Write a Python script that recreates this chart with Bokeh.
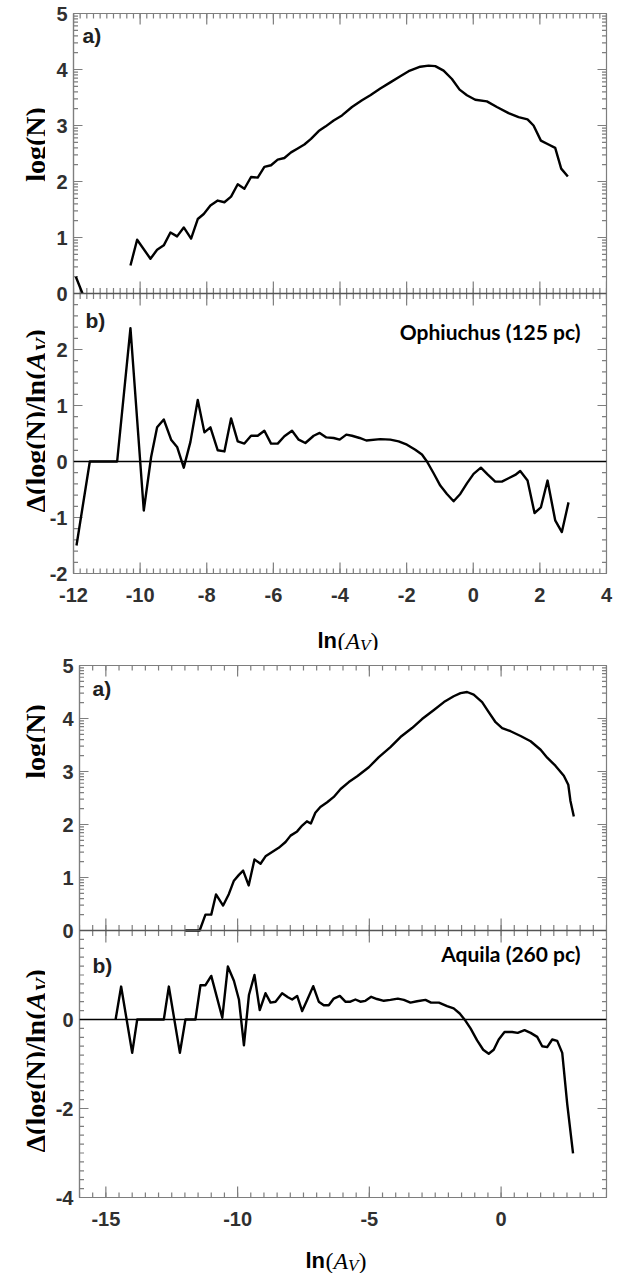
import math

from bokeh.embed import file_html
from bokeh.layouts import column, row
from bokeh.models import (CustomJSTickFormatter, FixedTicker, Label, LinearAxis,
                          Range1d, Span)
from bokeh.plotting import figure
from bokeh.resources import INLINE

NaN = float("nan")

# ---------------- Ophiuchus (125 pc) ----------------
# a) log(N) against ln(A_V); the NaN splits the isolated low-extinction piece
oph_lnav = [-11.93, -11.73, NaN,
            -10.29, -10.09, -9.69, -9.49, -9.29, -9.09, -8.89, -8.69, -8.47, -8.27,
            -8.09, -7.89, -7.67, -7.47, -7.27, -7.07, -6.87, -6.67, -6.47, -6.27,
            -6.07, -5.87, -5.67, -5.47, -5.27, -5.07, -4.87, -4.64, -4.44, -4.19,
            -3.94, -3.64, -3.34, -3.09, -2.79, -2.49, -2.19, -1.94, -1.59, -1.34,
            -1.14, -0.89, -0.64, -0.41, -0.19, 0.06, 0.41, 0.71, 1.06, 1.36,
            1.63, 1.81, 2.03, 2.26, 2.46, 2.64, 2.84]
oph_logn = [0.30, 0.0, NaN,
            0.50, 0.96, 0.62, 0.78, 0.86, 1.09, 1.02, 1.18, 0.98, 1.33,
            1.42, 1.57, 1.66, 1.63, 1.73, 1.95, 1.87, 2.08, 2.07, 2.26,
            2.29, 2.39, 2.42, 2.52, 2.59, 2.66, 2.76, 2.90, 2.98, 3.09,
            3.18, 3.33, 3.45, 3.54, 3.66, 3.77, 3.88, 3.97, 4.05, 4.07,
            4.06, 3.98, 3.83, 3.64, 3.54, 3.46, 3.43, 3.33, 3.22, 3.15,
            3.11, 3.00, 2.73, 2.66, 2.60, 2.23, 2.09]

# b) slope d log(N) / d ln(A_V)
oph_lnav_d = [-11.91, -11.51, -10.69, -10.29, -9.89, -9.67, -9.49, -9.29, -9.07, -8.89,
              -8.69, -8.49, -8.27, -8.07, -7.89, -7.67, -7.47, -7.27, -7.07, -6.87,
              -6.67, -6.47, -6.27, -6.07, -5.87, -5.67, -5.44, -5.24, -5.04, -4.79,
              -4.61, -4.41, -4.19, -4.01, -3.81, -3.64, -3.41, -3.21, -2.79, -2.49,
              -2.24, -1.99, -1.74, -1.54, -1.39, -1.19, -0.99, -0.79, -0.59, -0.39,
              -0.19, 0.01, 0.23, 0.43, 0.66, 0.86, 1.06, 1.26, 1.41, 1.63,
              1.84, 2.03, 2.23, 2.46, 2.66, 2.86]
oph_slope = [-1.50, 0.0, 0.0, 2.38, -0.875, 0.08, 0.61, 0.75, 0.39, 0.26,
             -0.11, 0.35, 1.10, 0.52, 0.61, 0.20, 0.18, 0.77, 0.36, 0.32,
             0.46, 0.46, 0.55, 0.32, 0.32, 0.45, 0.55, 0.39, 0.33, 0.46,
             0.51, 0.43, 0.42, 0.39, 0.48, 0.46, 0.42, 0.375, 0.40, 0.39,
             0.36, 0.30, 0.21, 0.125, 0.0, -0.21, -0.43, -0.58, -0.71, -0.58,
             -0.39, -0.22, -0.11, -0.23, -0.36, -0.36, -0.30, -0.24, -0.17, -0.34,
             -0.92, -0.82, -0.34, -1.05, -1.26, -0.73]

# ---------------- Aquila (260 pc) ----------------
aql_lnav = [-11.98, -11.44, -11.22, -11.00, -10.82, -10.55, -10.33, -10.14, -9.95, -9.79,
            -9.58, -9.36, -9.13, -8.94, -8.69, -8.44, -8.18, -7.99, -7.74, -7.55,
            -7.37, -7.22, -7.05, -6.86, -6.60, -6.35, -6.09, -5.78, -5.46, -5.02,
            -4.64, -4.20, -3.82, -3.38, -3.00, -2.55, -2.17, -1.80, -1.54, -1.29,
            -1.04, -0.72, -0.47, -0.21, 0.04, 0.36, 0.74, 1.12, 1.50, 1.75,
            2.06, 2.38, 2.55, 2.63, 2.76]
aql_logn = [0.0, 0.0, 0.30, 0.30, 0.68, 0.47, 0.69, 0.94, 1.05, 1.13,
            0.85, 1.34, 1.26, 1.40, 1.48, 1.56, 1.67, 1.79, 1.87, 1.98,
            2.06, 2.02, 2.22, 2.33, 2.42, 2.52, 2.67, 2.80, 2.91, 3.08,
            3.27, 3.46, 3.65, 3.82, 3.99, 4.16, 4.31, 4.42, 4.48, 4.50,
            4.45, 4.31, 4.12, 3.93, 3.82, 3.76, 3.67, 3.57, 3.41, 3.26,
            3.11, 2.92, 2.75, 2.45, 2.15]

aql_lnav_d = [-14.63, -14.42, -14.00, -13.81, -12.80, -12.61, -12.19, -11.98, -11.60, -11.41,
              -11.22, -11.00, -10.58, -10.37, -10.14, -9.95, -9.76, -9.57, -9.36, -9.16,
              -8.94, -8.75, -8.56, -8.31, -8.09, -7.93, -7.74, -7.55, -7.36, -7.13,
              -6.92, -6.73, -6.54, -6.35, -6.12, -5.91, -5.72, -5.53, -5.34, -5.15,
              -4.93, -4.71, -4.45, -4.20, -3.92, -3.69, -3.44, -3.19, -2.87, -2.66,
              -2.36, -2.05, -1.80, -1.57, -1.35, -1.16, -0.91, -0.68, -0.47, -0.28,
              -0.09, 0.13, 0.42, 0.63, 0.89, 1.12, 1.37, 1.56, 1.75, 1.94,
              2.13, 2.32, 2.51, 2.73]
aql_slope = [0.0, 0.74, -0.75, 0.0, 0.0, 0.74, -0.75, 0.0, 0.0, 0.77,
             0.77, 0.98, 0.04, 1.19, 0.87, 0.45, -0.58, 0.55, 1.00, 0.21,
             0.59, 0.38, 0.40, 0.59, 0.50, 0.45, 0.53, 0.19, 0.44, 0.75,
             0.40, 0.32, 0.32, 0.47, 0.53, 0.40, 0.40, 0.45, 0.40, 0.42,
             0.51, 0.46, 0.42, 0.44, 0.47, 0.44, 0.38, 0.41, 0.44, 0.38,
             0.38, 0.30, 0.25, 0.135, -0.03, -0.20, -0.47, -0.68, -0.77, -0.68,
             -0.45, -0.28, -0.28, -0.30, -0.24, -0.30, -0.39, -0.60, -0.62, -0.45,
             -0.48, -0.75, -1.90, -3.01]

# tick positions
oph_x_major = [-12, -10, -8, -6, -4, -2, 0, 2, 4]
aql_x_major = [-15, -10, -5, 0]
oph_slope_major = [-2, -1, 0, 1, 2]
aql_slope_major = [-4, -2, 0]
logn_major = [0, 1, 2, 3, 4, 5]

GREY = "#7e7e7e"
DARK = "#555555"
LABEL_COL = "#303030"
SANS = "Liberation Sans"
SERIF = "Liberation Serif"
ROT = math.pi / 2


def steps(start, stop, step):
    n = int(round((stop - start) / step))
    return [round(start + i * step, 6) for i in range(n + 1)]


def add_label(p, x, y, text, size, font, style="bold", angle=0.0,
              align="left", baseline="alphabetic", color="black"):
    p.add_layout(Label(x=x, y=y, x_units="screen", y_units="screen", text=text,
                       text_font=font, text_font_size=f"{size}px",
                       text_font_style=style, angle=angle, text_align=align,
                       text_baseline=baseline, text_color=color))


def blank(frame_w, frame_h, left=0, right=0, top=0, bottom=0):
    """A bare canvas for axis titles; its frame lines up with the panels."""
    f = figure(frame_width=frame_w, frame_height=frame_h,
               min_border_left=left, min_border_right=right,
               min_border_top=top, min_border_bottom=bottom,
               x_range=Range1d(0, 1), y_range=Range1d(0, 1),
               x_axis_location=None, y_axis_location=None,
               output_backend="svg", toolbar_location=None)
    f.grid.grid_line_color = None
    f.outline_line_color = None
    return f


def edge_ticks(p, xs, ys, horizontal, size, range_name="default"):
    kw = {} if range_name == "default" else {"y_range_name": range_name}
    p.scatter(xs, ys, marker="dash", angle=0 if horizontal else ROT, size=size,
              line_color=GREY, line_width=1.2, **kw)


def build_panels(x_lo, x_hi, frame_w, h_a, h_b, b_lo, b_hi, borders,
                 x_major, x_minor_step, b_major, lnav, logn, lnav_d, slope,
                 region, lab_pos):
    left, right, top, bottom = borders
    # panel b sets the default range; panel a lives on an extra range that
    # shares the frame, its zero sitting on the boundary between the panels
    b_full_hi = b_hi + h_a * (b_hi - b_lo) / h_b
    a_full_lo = -5.0 * h_b / h_a
    scale = (h_a / 5.0) / (h_b / (b_hi - b_lo))

    p = figure(frame_width=frame_w, frame_height=h_a + h_b,
               x_range=Range1d(x_lo, x_hi), y_range=Range1d(b_lo, b_full_hi),
               min_border_left=left, min_border_right=right,
               min_border_top=top, min_border_bottom=bottom,
               output_backend="svg", toolbar_location=None,
               x_axis_location=None, y_axis_location=None)
    p.extra_y_ranges = {"a": Range1d(a_full_lo, 5)}
    p.grid.grid_line_color = None
    p.outline_line_color = GREY
    p.outline_line_width = 1.2

    x_minor = steps(x_lo, x_hi, x_minor_step)
    y_major = list(b_major) + [b_hi + k * scale for k in logn_major]
    y_minor = steps(b_lo, b_hi, 0.2) + [
        b_hi + (n + math.log10(k)) * scale for n in range(5) for k in range(2, 10)]

    yfmt = CustomJSTickFormatter(
        args=dict(off=b_hi, s=scale),
        code="const v = tick > off - 1e-6 ? (tick - off) / s : tick;"
             " return Math.round(v).toString();")
    xfmt = CustomJSTickFormatter(code="return Math.round(tick).toString();")

    yax = LinearAxis(ticker=FixedTicker(ticks=y_major, minor_ticks=[]), formatter=yfmt)
    xax = LinearAxis(ticker=FixedTicker(ticks=x_major, minor_ticks=[]), formatter=xfmt)
    for ax, standoff in ((yax, 6), (xax, 14)):
        ax.axis_line_color = GREY
        ax.axis_line_width = 1.2
        ax.major_tick_in = 0
        ax.major_tick_out = 0
        ax.minor_tick_in = 0
        ax.minor_tick_out = 0
        ax.major_label_standoff = standoff
        ax.major_label_text_font = SANS
        ax.major_label_text_font_style = "bold"
        ax.major_label_text_font_size = "20px"
        ax.major_label_text_color = LABEL_COL
    p.add_layout(yax, "left")
    p.add_layout(xax, "below")

    # inward ticks on all four sides (half of each dash is clipped by the frame)
    for x_edge in (x_lo, x_hi):
        edge_ticks(p, [x_edge] * len(y_major), y_major, True, 18)
        edge_ticks(p, [x_edge] * len(y_minor), y_minor, True, 9)
    for y_edge in (b_lo, b_full_hi):
        edge_ticks(p, x_major, [y_edge] * len(x_major), False, 22)
        edge_ticks(p, x_minor, [y_edge] * len(x_minor), False, 10)

    # boundary between the two panels, ticked in both directions
    p.add_layout(Span(location=0, dimension="width", y_range_name="a",
                      line_color=DARK, line_width=1.6))
    edge_ticks(p, x_major, [0] * len(x_major), False, 24, "a")
    edge_ticks(p, x_minor, [0] * len(x_minor), False, 11, "a")

    # zero slope reference
    p.add_layout(Span(location=0, dimension="width", line_color="black",
                      line_width=1.6))

    p.line(lnav, logn, y_range_name="a", line_color="black", line_width=2.4,
           line_join="round")
    p.line(lnav_d, slope, line_color="black", line_width=2.4, line_join="round")

    (ax_x, ax_y), (bx_x, bx_y), (reg_x, reg_y) = lab_pos
    add_label(p, ax_x, ax_y, "a)", 21, SANS, baseline="middle", color="#202020")
    add_label(p, bx_x, bx_y, "b)", 21, SANS, baseline="middle", color="#202020")
    add_label(p, reg_x, reg_y, region, 21, "Lato", align="right", baseline="middle")
    return p


def y_titles(width, frame_h, top, bottom, base_x, logn_y, delta_y):
    f = blank(width, frame_h, top=top, bottom=bottom)
    add_label(f, base_x, logn_y, "log(N)", 28, SERIF, angle=ROT, align="center")
    add_label(f, base_x, delta_y, "\u0394(log(N)/ln(", 28, SERIF, angle=ROT)
    add_label(f, base_x, delta_y + 142, "A", 28, SERIF, style="bold italic", angle=ROT)
    add_label(f, base_x + 7, delta_y + 161, "V", 20, SERIF, style="bold italic", angle=ROT)
    add_label(f, base_x, delta_y + 174, ")", 28, SERIF, angle=ROT)
    return f


def x_title(frame_w, height, left, right, x0, base_y):
    f = blank(frame_w, height, left=left, right=right)
    add_label(f, x0, base_y, "ln", 22, SANS)
    add_label(f, x0 + 20, base_y, "(", 24, SERIF, style="normal")
    add_label(f, x0 + 28, base_y, "A", 24, SERIF, style="italic")
    add_label(f, x0 + 42.5, base_y - 5, "V", 17, SERIF, style="italic")
    add_label(f, x0 + 53, base_y, ")", 24, SERIF, style="normal")
    return f


TITLE_W = 45

# Ophiuchus block: 650 px tall, frame 13..573, frame x 73..606
p1 = build_panels(-12, 4, 533, 280, 280, -2, 3, (28, 29, 13, 42),
                  oph_x_major, 0.2, oph_slope_major,
                  oph_lnav, oph_logn, oph_lnav_d, oph_slope,
                  "Ophiuchus (125 pc)",
                  ((9, 538), (12, 253), (507, 242)))
block1 = row(y_titles(TITLE_W, 560, 13, 77, 35, 429, 61),
             column(p1, x_title(533, 35, 28, 29, 244, 10), spacing=0), spacing=0)

# Aquila block: 623 px tall, frame 665..1197, frame x 79..606
p2 = build_panels(-16, 4, 527, 265, 267, -4, 2, (34, 29, 15, 41),
                  aql_x_major, 0.5, aql_slope_major,
                  aql_lnav, aql_logn, aql_lnav_d, aql_slope,
                  "Aquila (260 pc)",
                  ((13, 509), (13, 232), (501, 244)))
block2 = row(y_titles(TITLE_W, 532, 15, 76, 35, 456, 45),
             column(p2, x_title(527, 35, 34, 29, 226, 13), spacing=0), spacing=0)

layout = column(block1, block2, spacing=0)
open("out.html", "w").write(file_html(layout, INLINE))
